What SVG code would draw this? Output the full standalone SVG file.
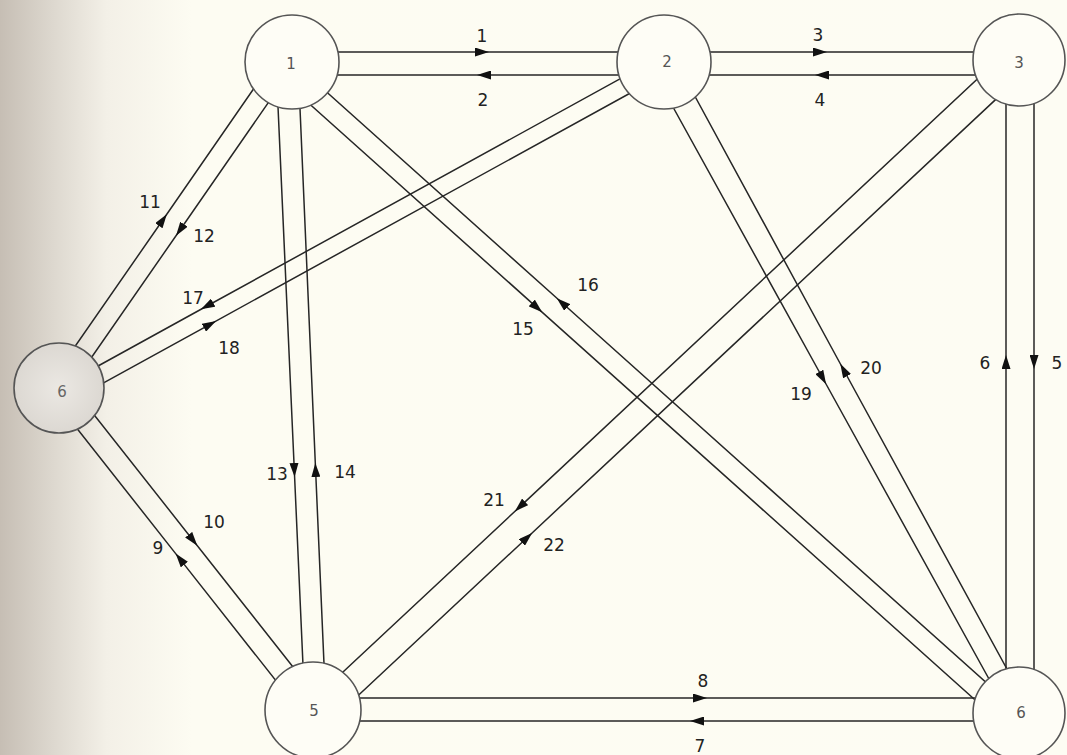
<svg xmlns="http://www.w3.org/2000/svg" width="1067" height="755" viewBox="0 0 1067 755">
<defs>
<linearGradient id="bg" x1="0" y1="0" x2="1" y2="0" gradientUnits="objectBoundingBox">
<stop offset="0" stop-color="#c6beb4"/>
<stop offset="0.05" stop-color="#ddd8cf"/>
<stop offset="0.1" stop-color="#f3f0e7"/>
<stop offset="0.18" stop-color="#fdfcf2"/>
<stop offset="1" stop-color="#fdfcf3"/>
</linearGradient>
<radialGradient id="lg" cx="0.5" cy="0.5" r="0.5">
<stop offset="0" stop-color="#ebe8e3"/>
<stop offset="1" stop-color="#dcd8d2"/>
</radialGradient>
<marker id="ah" viewBox="0 0 14 9" refX="7" refY="4.5" markerWidth="14" markerHeight="9" markerUnits="userSpaceOnUse" orient="auto">
<path d="M0,0 L14,4.5 L0,9 z" fill="#111"/>
</marker>
</defs>
<style>
.c{fill:none;stroke:#262626;stroke-width:1.5;marker-mid:url(#ah)}
.n{fill:#fefdf6;stroke:#555;stroke-width:1.6}
.nl{font-family:"DejaVu Sans",sans-serif;font-size:15px;fill:#555;text-anchor:middle;dominant-baseline:central}
.el{font-family:"DejaVu Sans",sans-serif;font-size:17px;fill:#222;text-anchor:middle;dominant-baseline:central}
</style>
<rect x="0" y="0" width="1067" height="755" fill="url(#bg)"/>
<g id="connectors">
<path class="c" d="M292,52 L482,52 L664,52"/>
<path class="c" d="M664,75 L484,75 L292,75"/>
<path class="c" d="M664,52 L820,52 L1019,52"/>
<path class="c" d="M1019,75 L822,75 L664,75"/>
<path class="c" d="M1034,60 L1034,362 L1034,713"/>
<path class="c" d="M1006,713 L1006,362 L1006,60"/>
<path class="c" d="M1019,721 L697,721 L313,721"/>
<path class="c" d="M313,698 L700,698 L1019,698"/>
<path class="c" d="M304.4,716.8 L180,559.1 L50.4,394.8"/>
<path class="c" d="M67.6,381.2 L193,540.2 L321.6,703.2"/>
<path class="c" d="M41.3,395 L162.8,220 L277,55"/>
<path class="c" d="M296.5,62 L180,230 L65.4,395"/>
<path class="c" d="M276,62 L294.3,470 L305,710"/>
<path class="c" d="M326,710 L315.6,470 L298,62"/>
<path class="c" d="M292,88.2 L537,307.6 L1000,722.2"/>
<path class="c" d="M1019,712 L562,302.8 L292,61"/>
<path class="c" d="M664,54.7 L207,306 L59,387.5"/>
<path class="c" d="M59,407.3 L210,324.3 L664,74.5"/>
<path class="c" d="M648.1,62 L822.7,378 L1007.8,713"/>
<path class="c" d="M1031,713 L843.7,370 L676.3,62"/>
<path class="c" d="M1019,40 L520,506.6 L313,700"/>
<path class="c" d="M313,737.8 L527,537.7 L1019,77.7"/>
</g>
<g id="edge-labels">
<text class="el" x="482" y="36">1</text>
<text class="el" x="483" y="100">2</text>
<text class="el" x="818" y="35">3</text>
<text class="el" x="820" y="100">4</text>
<text class="el" x="1057" y="363">5</text>
<text class="el" x="985" y="363">6</text>
<text class="el" x="700" y="746">7</text>
<text class="el" x="703" y="681">8</text>
<text class="el" x="158" y="548">9</text>
<text class="el" x="214" y="522">10</text>
<text class="el" x="150" y="202">11</text>
<text class="el" x="204" y="236">12</text>
<text class="el" x="277" y="474">13</text>
<text class="el" x="345" y="472">14</text>
<text class="el" x="523" y="329">15</text>
<text class="el" x="588" y="285">16</text>
<text class="el" x="193" y="298">17</text>
<text class="el" x="229" y="348">18</text>
<text class="el" x="801" y="394">19</text>
<text class="el" x="871" y="368">20</text>
<text class="el" x="494" y="500">21</text>
<text class="el" x="554" y="545">22</text>
</g>
<g id="node-1"><circle class="n" cx="292" cy="62" r="47"/><text class="nl" x="291" y="64">1</text></g>
<g id="node-2"><circle class="n" cx="664" cy="62" r="47"/><text class="nl" x="667" y="62">2</text></g>
<g id="node-3"><circle class="n" cx="1019" cy="60" r="46"/><text class="nl" x="1019" y="63">3</text></g>
<g id="node-left"><circle cx="59" cy="388" r="45" fill="url(#lg)" stroke="#555" stroke-width="1.6"/><text class="nl" x="62" y="392" style="fill:#666">6</text></g>
<g id="node-5"><circle class="n" cx="313" cy="710" r="48"/><text class="nl" x="314" y="711">5</text></g>
<g id="node-6"><circle class="n" cx="1019" cy="713" r="46"/><text class="nl" x="1021" y="713">6</text></g>
</svg>
